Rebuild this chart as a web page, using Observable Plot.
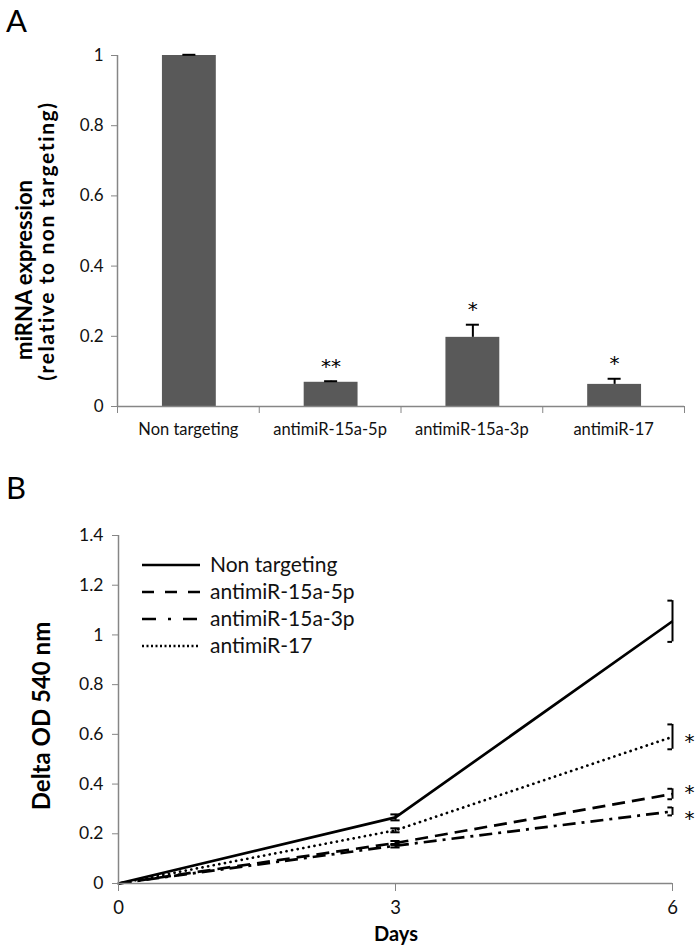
<!DOCTYPE html>
<html><head><meta charset="utf-8">
<script src="https://cdn.jsdelivr.net/npm/d3@7"></script>
<script src="https://cdn.jsdelivr.net/npm/@observablehq/plot@0.6"></script>
<style>
body{margin:0;background:#fff;}
#wrap{position:relative;width:700px;height:951px;font-family:Lato,"Open Sans",sans-serif;color:#000;overflow:hidden;background:#fff}
#wrap svg{position:absolute;left:0}
.letter{position:absolute;font-size:31px;line-height:1;}
.ytitle{position:absolute;white-space:nowrap;font-weight:bold;line-height:1;transform:translate(-50%,-50%) rotate(-90deg);}
.xtitle{position:absolute;white-space:nowrap;font-weight:bold;line-height:1;transform:translate(-50%,-50%);}
</style></head><body><div id="wrap"></div>
<script>
// ---------- Panel A data ----------
const categories = ["Non targeting", "antimiR-15a-5p", "antimiR-15a-3p", "antimiR-17"];
const expression = [1, 0.069, 0.197, 0.063];
const expressionErr = [0.002, 0.003, 0.036, 0.016];
const expressionSig = ["", "**", "*", "*"];
const yTicksA = [0, 0.2, 0.4, 0.6, 0.8, 1];

// ---------- Panel B data ----------
const days = [0, 3, 6];
const seriesNames = ["Non targeting", "antimiR-15a-5p", "antimiR-15a-3p", "antimiR-17"];
const odNonTargeting = [0, 0.266, 1.055];
const od15a5p = [0, 0.163, 0.360];
const od15a3p = [0, 0.152, 0.290];
const od17 = [0, 0.214, 0.590];
const errNonTargeting = [0, 0.012, 0.083];
const err15a5p = [0, 0.008, 0.021];
const err15a3p = [0, 0.007, 0.016];
const err17 = [0, 0.008, 0.050];
const sigB = ["", "*", "*", "*"];
const sigLevelB = [null, 0.384, 0.283, 0.59];   // height of each significance mark
const yTicksB = [0, 0.2, 0.4, 0.6, 0.8, 1, 1.2, 1.4];

// ---------- styles ----------
const axisGray = "#868686";
const barFill = "#595959";
const dashBy = {"Non targeting": null, "antimiR-15a-5p": "13,7", "antimiR-15a-3p": "13,6,3,6", "antimiR-17": "0.1,5.6"};
const capBy = {"Non targeting": "butt", "antimiR-15a-5p": "butt", "antimiR-15a-3p": "butt", "antimiR-17": "round"};
const legendDashBy = {"Non targeting": null, "antimiR-15a-5p": "12,11", "antimiR-15a-3p": "14,12,3,12", "antimiR-17": "2,2.5"};
const font = "Lato, 'Open Sans', sans-serif";
const starFont = "'DejaVu Sans', sans-serif";
const wrap = document.getElementById("wrap");

// ---------- Panel A ----------
const barOffset = 0.317, barFrac = 0.38, capA = 0.046;
const rowsA = categories.map((c, i) => ({c, i, v: expression[i], e: expressionErr[i], s: expressionSig[i]}));
const cx = d => d.i + barOffset + barFrac / 2;
const plotA = Plot.plot({
  width: 700, height: 470,
  marginLeft: 117, marginRight: 16, marginTop: 55, marginBottom: 64,
  style: {fontFamily: font, background: "transparent", overflow: "visible", color: "#000"},
  x: {domain: [0, categories.length], axis: null},
  y: {domain: [0, 1], axis: null},
  marks: [
    Plot.rectY(rowsA, {x1: d => d.i + barOffset, x2: d => d.i + barOffset + barFrac, y1: 0, y2: "v", fill: barFill}),
    Plot.ruleX(rowsA, {x: cx, y1: "v", y2: d => d.v + d.e, stroke: "#000", strokeWidth: 2}),
    Plot.ruleY(rowsA, {y: d => d.v + d.e, x1: d => cx(d) - capA, x2: d => cx(d) + capA, stroke: "#000", strokeWidth: 2}),
    Plot.text(rowsA, {x: cx, y: d => d.v + d.e, text: "s", dy: -15, fontSize: 20, fontFamily: starFont, fill: "#000"}),
    Plot.ruleX([0], {stroke: axisGray, strokeWidth: 1.5}),
    Plot.ruleY([0], {stroke: axisGray, strokeWidth: 1.5}),
    Plot.axisY({ticks: yTicksA, tickSize: 6, tickPadding: 8, tickFormat: d => String(d), fontSize: 17, stroke: axisGray, fill: "#111", label: null}),
    Plot.axisX({ticks: d3.range(categories.length + 1), tickSize: 7, tickFormat: () => "", stroke: axisGray, label: null}),
    Plot.axisX({ticks: categories.map((c, i) => i + 0.5), tickSize: 0, tickPadding: 17, tickFormat: v => categories[Math.floor(v)], fontSize: 16.5, fill: "#111", label: null})
  ]
});
plotA.style.top = "0px";
wrap.appendChild(plotA);

// ---------- Panel B ----------
const seriesValues = [odNonTargeting, od15a5p, od15a3p, od17];
const seriesErrs = [errNonTargeting, err15a5p, err15a3p, err17];
const rowsB = seriesNames.flatMap((s, k) => days.map((d, j) => ({s, k, day: d, od: seriesValues[k][j], err: seriesErrs[k][j]})));
const lastDay = days[days.length - 1];
const errRows = rowsB.filter(r => r.err > 0);
const capB = 0.05;
const capX1 = d => d.day - capB;
const capX2 = d => d.day === lastDay ? d.day : d.day + capB;
const starRows = seriesNames.map((s, k) => ({s, day: lastDay, level: sigLevelB[k], t: sigB[k]})).filter(d => d.t);
const plotB = Plot.plot({
  width: 700, height: 476,
  marginLeft: 118, marginRight: 28, marginTop: 60, marginBottom: 68,
  style: {fontFamily: font, background: "transparent", overflow: "visible", color: "#000"},
  x: {domain: [0, lastDay], axis: null},
  y: {domain: [0, 1.4], axis: null},
  marks: [
    ...seriesNames.map(s => Plot.line(rowsB.filter(r => r.s === s), {x: "day", y: "od", stroke: "#000", strokeWidth: 2.7, strokeDasharray: dashBy[s], strokeLinecap: capBy[s]})),
    Plot.ruleX(errRows, {x: "day", y1: d => d.od - d.err, y2: d => d.od + d.err, stroke: "#000", strokeWidth: 2}),
    Plot.ruleY(errRows, {y: d => d.od + d.err, x1: capX1, x2: capX2, stroke: "#000", strokeWidth: 2}),
    Plot.ruleY(errRows, {y: d => d.od - d.err, x1: capX1, x2: capX2, stroke: "#000", strokeWidth: 2}),
    Plot.text(starRows, {x: "day", y: "level", text: "t", dx: 17, dy: 5, fontSize: 20, fontFamily: starFont, fill: "#000"}),
    Plot.ruleX([0], {stroke: axisGray, strokeWidth: 1.5}),
    Plot.ruleY([0], {stroke: axisGray, strokeWidth: 1.5}),
    Plot.axisY({ticks: yTicksB, tickSize: 6, tickPadding: 9, tickFormat: d => String(d), fontSize: 17.5, stroke: axisGray, fill: "#111", label: null}),
    Plot.axisX({ticks: days, tickSize: 8, tickPadding: 9, tickFormat: d => String(d), fontSize: 18.5, stroke: axisGray, fill: "#111", label: null})
  ]
});
plotB.style.top = "475px";
wrap.appendChild(plotB);

// ---------- Legend (panel B, inside plot area) ----------
const leg = d3.create("svg").attr("width", 280).attr("height", 110)
  .style("position", "absolute").style("left", "130px").style("top", "550px").style("overflow", "visible");
seriesNames.forEach((s, k) => {
  const g = leg.append("g").attr("transform", `translate(0,${15 + k * 27})`);
  g.append("line").attr("x1", 12).attr("x2", 70).attr("y1", 0).attr("y2", 0)
    .attr("stroke", "#000").attr("stroke-width", 2.6).attr("stroke-dasharray", legendDashBy[s]);
  g.append("text").attr("x", 80).attr("y", 0).attr("dy", "0.35em")
    .attr("font-family", font).attr("font-size", 21).attr("fill", "#111").text(s);
});
wrap.appendChild(leg.node());

// ---------- Titles ----------
function addDiv(cls, text, styles) {
  const el = document.createElement("div");
  el.className = cls; el.textContent = text;
  Object.assign(el.style, styles);
  wrap.appendChild(el);
}
addDiv("letter", "A", {left: "6px", top: "5px"});
addDiv("letter", "B", {left: "6px", top: "472px"});
addDiv("ytitle", "miRNA expression", {left: "24px", top: "270px", fontSize: "22px"});
addDiv("ytitle", "(relative to non targeting)", {left: "45px", top: "241px", fontSize: "21px", letterSpacing: "1.6px"});
addDiv("ytitle", "Delta OD 540 nm", {left: "41px", top: "716px", fontSize: "24px"});
addDiv("xtitle", "Days", {left: "396px", top: "933px", fontSize: "20px"});
</script></body></html>
